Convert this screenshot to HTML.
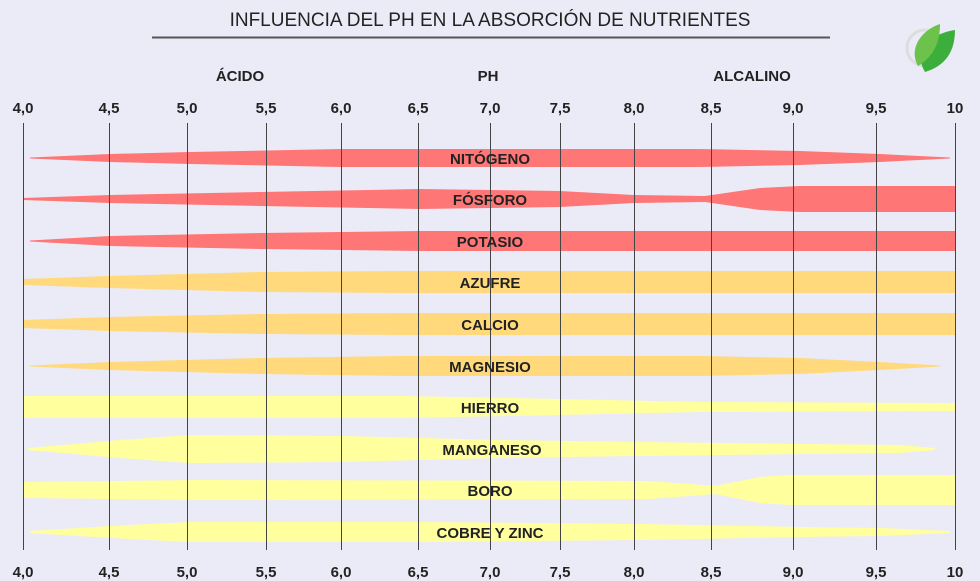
<!DOCTYPE html>
<html><head><meta charset="utf-8"><style>
body{margin:0;background:#ebebf7;}
svg{display:block;font-family:"Liberation Sans",sans-serif;}
</style></head><body>
<svg id="s" width="980" height="581" viewBox="0 0 980 581">
<rect width="980" height="581" fill="#ebebf7"/>
<text x="490" y="26" font-size="19" text-anchor="middle" fill="#222">INFLUENCIA DEL PH EN LA ABSORCIÓN DE NUTRIENTES</text>
<line x1="152" y1="37.5" x2="830" y2="37.5" stroke="#555" stroke-width="2"/>
<g font-size="15" font-weight="bold" text-anchor="middle" fill="#222">
<text x="240" y="81">ÁCIDO</text><text x="488" y="81">PH</text><text x="752" y="81">ALCALINO</text>
</g>
<circle cx="925" cy="48" r="18" fill="none" stroke="#ddd" stroke-width="3"/>
<g fill="#3cae3c"><path d="M925 72 C912 50 930 34 955 30 C955 52 945 66 925 72Z"/><path d="M918 66 C908 48 922 30 940 24 C940 42 934 56 918 66Z" fill="#6cc24a"/></g>
<g id="bands"></g>
<g id="grid" stroke="#444" stroke-width="1"></g>
<g id="ticks" font-size="15" font-weight="bold" text-anchor="middle" fill="#222"></g>
<g font-size="15" font-weight="bold" text-anchor="middle" fill="#222">
<text x="490" y="164">NITÓGENO</text><text x="490" y="205">FÓSFORO</text><text x="490" y="247">POTASIO</text>
<text x="490" y="288">AZUFRE</text><text x="490" y="330">CALCIO</text><text x="490" y="372">MAGNESIO</text>
<text x="490" y="413">HIERRO</text><text x="492" y="455">MANGANESO</text><text x="490" y="496">BORO</text>
<text x="490" y="538">COBRE Y ZINC</text>
</g>
</svg>
<script>
var NS="http://www.w3.org/2000/svg";
var xs=[23,109,187,266,341,418,490,560,634,711,793,876,955];
var lb=["4,0","4,5","5,0","5,5","6,0","6,5","7,0","7,5","8,0","8,5","9,0","9,5","10"];
var g=document.getElementById("grid"),t=document.getElementById("ticks");
xs.forEach(function(x,i){
 var l=document.createElementNS(NS,"line");l.setAttribute("x1",x+.5);l.setAttribute("x2",x+.5);l.setAttribute("y1",123);l.setAttribute("y2",550);g.appendChild(l);
 [113,577].forEach(function(y){var e=document.createElementNS(NS,"text");e.setAttribute("x",x);e.setAttribute("y",y);e.textContent=lb[i];t.appendChild(e);});
});
var R="#ff7676",O="#ffd97c",Y="#ffff9e";
var B=[
[158,R,[[30,.5],[110,4],[190,6],[340,9],[700,9],[800,7],[880,4],[950,.5]]],
[199,R,[[23,1],[110,4],[260,7],[420,10],[560,8],[634,4],[705,3],[760,11],[800,13],[955,13]]],
[241,R,[[30,.5],[110,5],[260,8],[420,10],[955,10]]],
[282,O,[[23,3],[110,6],[260,10],[400,11],[955,11]]],
[324,O,[[23,4],[110,7],[260,10],[400,11],[955,11]]],
[366,O,[[30,.5],[110,4],[260,8],[400,10],[700,10],[800,8],[880,4],[940,.5]]],
[407,Y,[[23,11],[400,11],[560,8],[700,5],[955,4]]],
[449,Y,[[28,1],[120,9],[190,14],[340,13],[500,9],[640,7],[800,5],[900,4],[935,1]]],
[490,Y,[[23,8],[200,10],[650,9],[715,4],[760,13],[790,15],[955,15]]],
[532,Y,[[30,1],[110,6],[190,10],[420,10],[640,8],[800,5],[880,4],[950,1]]]
];
var bg=document.getElementById("bands");
B.forEach(function(b){
 var c=b[0],p=b[2],d="M"+p[0][0]+" "+(c-p[0][1]);
 for(var i=1;i<p.length;i++)d+=" L"+p[i][0]+" "+(c-p[i][1]);
 for(var i=p.length-1;i>=0;i--)d+=" L"+p[i][0]+" "+(c+p[i][1]);
 d+="Z";var e=document.createElementNS(NS,"path");e.setAttribute("d",d);e.setAttribute("fill",b[1]);bg.appendChild(e);
});
</script>
</body></html>
